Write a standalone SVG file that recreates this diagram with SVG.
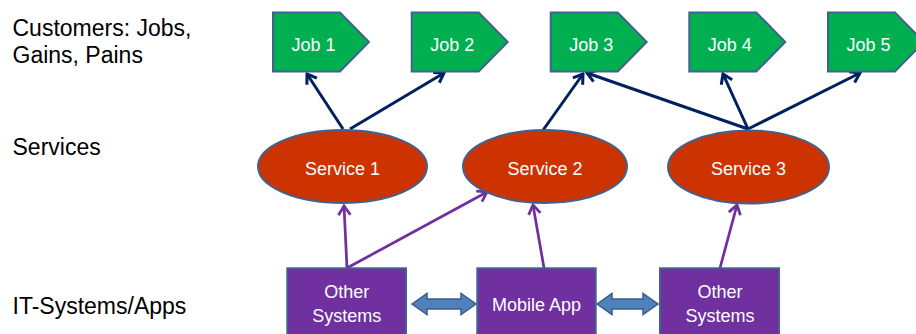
<svg xmlns="http://www.w3.org/2000/svg" width="916" height="334" viewBox="0 0 916 334">
  <defs>
    <style>
      .label { font-family: "Liberation Sans", Arial, sans-serif; font-size: 23px; fill: #000; }
      .nodetext { font-family: "Liberation Sans", Arial, sans-serif; font-size: 18px; fill: #fff; text-anchor: middle; }
      .job { fill: #00B050; stroke: #41618F; stroke-width: 2; }
      .service { fill: #CC3300; stroke: #41618F; stroke-width: 2; }
      .system { fill: #7030A0; stroke: #41618F; stroke-width: 2; }
      .link { fill: #4F81BD; stroke: #385D8A; stroke-width: 1.5; }
      .uses { stroke: #002060; stroke-width: 3; fill: none; marker-end: url(#navyHead); }
      .feeds { stroke: #7030A0; stroke-width: 2.75; fill: none; marker-end: url(#purpleHead); }
    </style>
    <marker id="navyHead" markerUnits="userSpaceOnUse" viewBox="-12 -8 14 16" refX="0" refY="0" markerWidth="14" markerHeight="16" orient="auto">
      <path d="M-9,-6 L0,0 L-9,6" fill="none" stroke="#002060" stroke-width="3"/>
    </marker>
    <marker id="purpleHead" markerUnits="userSpaceOnUse" viewBox="-12 -8 14 16" refX="0" refY="0" markerWidth="14" markerHeight="16" orient="auto">
      <path d="M-9,-6 L0,0 L-9,6" fill="none" stroke="#7030A0" stroke-width="2.75"/>
    </marker>
  </defs>

  <rect width="916" height="334" fill="#fff"/>

  <!-- row labels -->
  <g id="row-labels">
    <text class="label" x="12.5" y="36">Customers: Jobs,</text>
    <text class="label" x="12.5" y="63.3">Gains, Pains</text>
    <text class="label" x="12.5" y="155">Services</text>
    <text class="label" x="12.5" y="314">IT-Systems/Apps</text>
  </g>

  <!-- connectors -->
  <g id="connectors">
    <line class="uses" x1="343" y1="129" x2="307" y2="74"/>
    <line class="uses" x1="350" y1="129" x2="444" y2="73"/>
    <line class="uses" x1="541" y1="133" x2="583" y2="74"/>
    <line class="uses" x1="748" y1="129" x2="587" y2="73"/>
    <line class="uses" x1="748" y1="129" x2="723" y2="74"/>
    <line class="uses" x1="748" y1="129" x2="860" y2="73"/>

    <line class="feeds" x1="347" y1="268" x2="344" y2="206"/>
    <line class="feeds" x1="347" y1="268" x2="487" y2="192"/>
    <line class="feeds" x1="544" y1="268" x2="533" y2="205"/>
    <line class="feeds" x1="720" y1="268" x2="737" y2="205"/>

    <path class="link" d="M412,304 L427,293.5 L427,299 L461,299 L461,293.5 L476,304 L461,314.5 L461,309 L427,309 L427,314.5 Z"/>
    <path class="link" d="M597,304 L612,293.5 L612,299 L643,299 L643,293.5 L658,304 L643,314.5 L643,309 L612,309 L612,314.5 Z"/>
  </g>

  <!-- jobs -->
  <g id="job1">
    <path class="job" d="M273,12.5 H340 L369,42 L340,71.5 H273 Z"/>
    <text class="nodetext" x="313.5" y="50.5">Job 1</text>
  </g>
  <g id="job2">
    <path class="job" d="M411.7,12.5 H478.7 L507.7,42 L478.7,71.5 H411.7 Z"/>
    <text class="nodetext" x="452.2" y="50.5">Job 2</text>
  </g>
  <g id="job3">
    <path class="job" d="M550.7,12.5 H617.7 L646.7,42 L617.7,71.5 H550.7 Z"/>
    <text class="nodetext" x="591.2" y="50.5">Job 3</text>
  </g>
  <g id="job4">
    <path class="job" d="M689.3,12.5 H756.3 L785.3,42 L756.3,71.5 H689.3 Z"/>
    <text class="nodetext" x="729.8" y="50.5">Job 4</text>
  </g>
  <g id="job5">
    <path class="job" d="M828,12.5 H895 L924,42 L895,71.5 H828 Z"/>
    <text class="nodetext" x="868.5" y="50.5">Job 5</text>
  </g>

  <!-- services -->
  <g id="service1">
    <ellipse class="service" cx="342.5" cy="166.5" rx="84.5" ry="36.5"/>
    <text class="nodetext" x="342.5" y="175">Service 1</text>
  </g>
  <g id="service2">
    <ellipse class="service" cx="545" cy="166.5" rx="82" ry="36.5"/>
    <text class="nodetext" x="545" y="175">Service 2</text>
  </g>
  <g id="service3">
    <ellipse class="service" cx="748.5" cy="167" rx="80.5" ry="36.5"/>
    <text class="nodetext" x="748.5" y="175">Service 3</text>
  </g>

  <!-- IT systems -->
  <g id="other-systems-1">
    <rect class="system" x="287.3" y="268.3" width="118.7" height="72"/>
    <text class="nodetext" x="346.7" y="298.3">Other</text>
    <text class="nodetext" x="346.7" y="321.7">Systems</text>
  </g>
  <g id="mobile-app">
    <rect class="system" x="477.3" y="268.3" width="118.4" height="72"/>
    <text class="nodetext" x="536.5" y="310.7">Mobile App</text>
  </g>
  <g id="other-systems-2">
    <rect class="system" x="660" y="268.3" width="119" height="72"/>
    <text class="nodetext" x="720" y="298.3">Other</text>
    <text class="nodetext" x="720" y="321.7">Systems</text>
  </g>
</svg>
